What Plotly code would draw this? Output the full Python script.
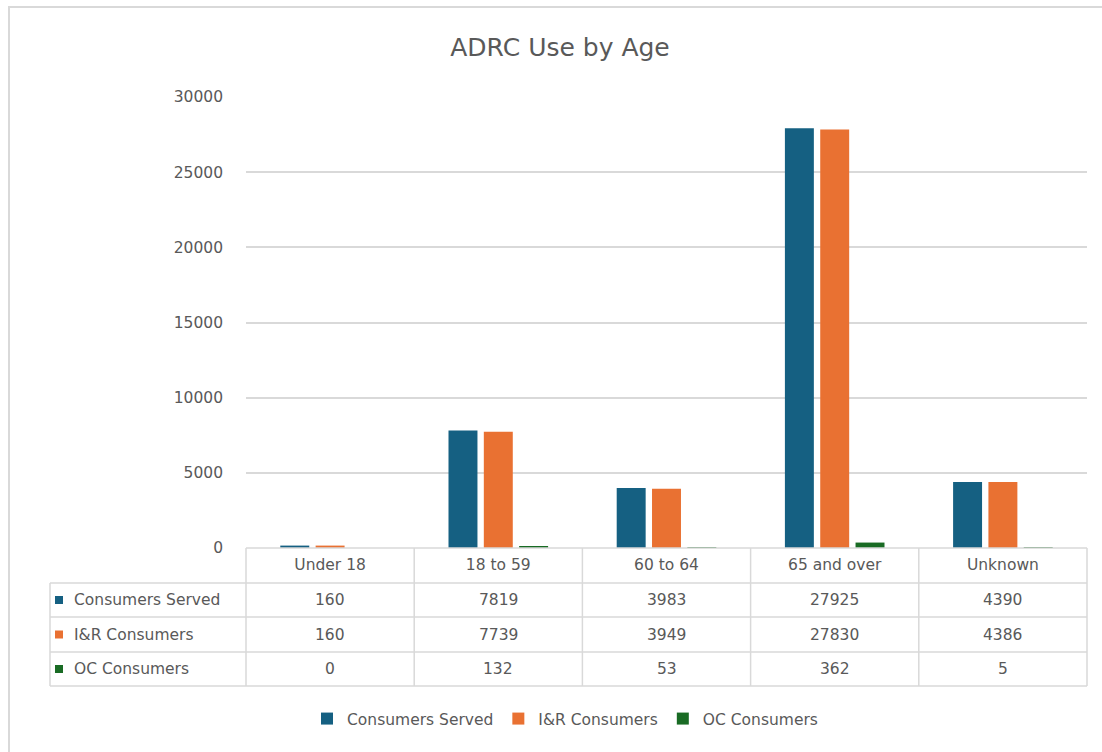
import plotly.graph_objects as go

# Age groups and consumer counts
categories = ["Under 18", "18 to 59", "60 to 64", "65 and over", "Unknown"]
series_names = ["Consumers Served", "I&R Consumers", "OC Consumers"]
consumers_served = [160, 7819, 3983, 27925, 4390]
ir_consumers = [160, 7739, 3949, 27830, 4386]
oc_consumers = [0, 132, 53, 362, 5]
series_colors = ["#156082", "#E97132", "#196B24"]
y_ticks = [0, 5000, 10000, 15000, 20000, 25000, 30000]

W, H = 1102, 752
ML, MR, MT, MB = 246, 15, 97, 204
PW, PH = W - ML - MR, H - MT - MB

FONT = "DejaVu Sans, Verdana, sans-serif"
TEXT = "#595959"
GRID = "#d9d9d9"
FS = 15.5


def px_x(px):
    return (px - ML) / PW


def px_y(py):
    return (H - MB - py) / PH


fig = go.Figure()
all_values = [consumers_served, ir_consumers, oc_consumers]
for name, vals, col in zip(series_names, all_values, series_colors):
    fig.add_trace(go.Bar(name=name, x=categories, y=vals, marker=dict(color=col, line=dict(width=0))))

shapes = []
annotations = []

# outer chart frame
shapes.append(dict(type="rect", xref="paper", yref="paper",
                   x0=px_x(9), x1=px_x(1110), y0=px_y(7), y1=px_y(760),
                   line=dict(color=GRID, width=2), layer="below"))

# data table grid
table_left, table_split = 50, ML
row_lines = [548, 583, 617, 652, 686]
col_lines = [ML + PW * i / len(categories) for i in range(len(categories) + 1)]
line_style = dict(color=GRID, width=1.5)
# horizontal lines
shapes.append(dict(type="line", xref="paper", yref="paper", x0=px_x(table_split), x1=1,
                   y0=px_y(row_lines[0]), y1=px_y(row_lines[0]), line=line_style))
for ry in row_lines[1:]:
    shapes.append(dict(type="line", xref="paper", yref="paper", x0=px_x(table_left), x1=1,
                       y0=px_y(ry), y1=px_y(ry), line=line_style))
# vertical lines
shapes.append(dict(type="line", xref="paper", yref="paper", x0=px_x(table_left), x1=px_x(table_left),
                   y0=px_y(row_lines[1]), y1=px_y(row_lines[-1]), line=line_style))
for cx in col_lines:
    shapes.append(dict(type="line", xref="paper", yref="paper", x0=px_x(cx), x1=px_x(cx),
                       y0=px_y(row_lines[0]), y1=px_y(row_lines[-1]), line=line_style))

# row labels with colour keys, and cell values
for r, (name, vals, col) in enumerate(zip(series_names, all_values, series_colors)):
    top, bot = row_lines[r + 1], row_lines[r + 2]
    mid = (top + bot) / 2
    shapes.append(dict(type="rect", xref="paper", yref="paper",
                       x0=px_x(55), x1=px_x(63), y0=px_y(mid - 4), y1=px_y(mid + 4),
                       fillcolor=col, line=dict(width=0)))
    annotations.append(dict(xref="paper", yref="paper", x=px_x(72), y=px_y(mid),
                            xanchor="left", yanchor="middle", showarrow=False, text=name,
                            font=dict(family=FONT, size=FS, color=TEXT)))
    for i, v in enumerate(vals):
        annotations.append(dict(xref="x", yref="paper", x=categories[i], y=px_y(mid),
                                xanchor="center", yanchor="middle", showarrow=False, text=str(v),
                                font=dict(family=FONT, size=FS, color=TEXT)))

fig.update_layout(
    width=W, height=H,
    margin=dict(l=ML, r=MR, t=MT, b=MB),
    paper_bgcolor="white", plot_bgcolor="white",
    barmode="group", bargap=0.37, bargroupgap=0.18,
    title=dict(text="ADRC Use by Age", x=560 / W, xanchor="center",
               y=1 - 47 / H, yanchor="middle",
               font=dict(family=FONT, size=25, color=TEXT)),
    xaxis=dict(showgrid=False, showline=False, ticks="", zeroline=False,
               tickfont=dict(family=FONT, size=FS, color=TEXT), ticklabelstandoff=5),
    yaxis=dict(range=[0, 30000], tickvals=y_ticks, tickformat="d", showgrid=True,
               gridcolor=GRID, gridwidth=1.5, zeroline=False, showline=False,
               tickfont=dict(family=FONT, size=FS, color=TEXT), ticklabelstandoff=22),
    legend=dict(orientation="h", x=px_x(565), xanchor="center", y=px_y(719), yanchor="middle",
                font=dict(family=FONT, size=FS, color=TEXT), itemwidth=30,
                traceorder="normal"),
    shapes=shapes,
    annotations=annotations,
)

fig.write_html("out.html")
